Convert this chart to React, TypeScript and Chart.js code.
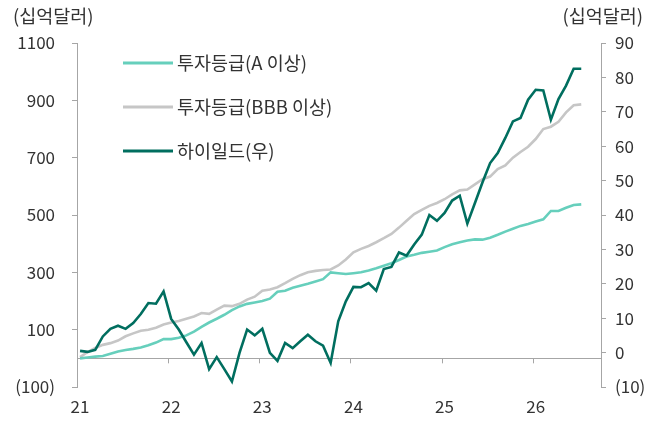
import React, { useEffect, useRef } from "react";
import { Chart, registerables } from "chart.js";

Chart.register(...registerables);

const YEAR_LABELS = ["21", "22", "23", "24", "25", "26"];
const LEFT_TICKS = [-100, 100, 300, 500, 700, 900, 1100];
const UNIT = "(십억달러)";
const SERIES_NAMES = ["투자등급(A 이상)", "투자등급(BBB 이상)", "하이일드(우)"];

const A_GRADE = [
  0, 3, 6, 8, 16, 24, 29, 33, 38, 46, 55, 67, 67, 72, 80, 93, 110, 125, 138, 152,
  168, 181, 190, 195, 200, 208, 232, 236, 246, 253, 260, 268, 276, 300, 297, 294,
  297, 300, 306, 314, 323, 332, 343, 355, 361, 368, 372, 376, 388, 398, 405, 411,
  415, 414, 421, 431, 442, 452, 462, 469, 477, 485, 514, 514, 525, 535, 537,
];
const BBB_GRADE = [
  4, 22, 36, 47, 53, 62, 77, 87, 96, 100, 107, 118, 125, 130, 138, 146, 158, 155,
  170, 184, 182, 190, 205, 215, 236, 240, 248, 262, 277, 290, 300, 305, 308, 310,
  324, 345, 370, 382, 392, 405, 419, 434, 456, 480, 503, 518, 532, 542, 555, 572,
  586, 589, 607, 625, 634, 660, 673, 700, 720, 738, 765, 800, 808, 825, 858, 883, 886,
];
const HIGH_YIELD = [
  0.5, 0.2, 0.8, 4.7, 6.9, 7.8, 6.9, 8.6, 11.2, 14.4, 14.2, 17.8, 9.8, 6.7, 3.0,
  -0.6, 2.8, -4.8, -1.3, -4.8, -8.4, -0.1, 6.7, 5.0, 6.9, -0.1, -2.4, 2.8, 1.3, 3.3,
  5.2, 3.3, 2.0, -3.0, 9.1, 14.9, 19.1, 19.0, 20.2, 18.0, 24.3, 24.9, 29.1, 28.2,
  31.4, 34.3, 40.0, 38.3, 40.6, 44.2, 45.6, 37.5, 43.5, 49.5, 55.1, 58.0, 62.4, 67.2,
  68.2, 73.5, 76.4, 76.2, 67.7, 73.7, 77.6, 82.5, 82.5,
];

const COLORS = ["#66cfbc", "#c6c6c6", "#006e5f"];
const FONT = "'Noto Sans CJK KR', 'Noto Sans', sans-serif";
const TEXT = "#333333";
const AXIS = "#a6a6a6";

const fmt = (v: number) => (v < 0 ? `(${-v})` : `${v}`);

const decor = {
  id: "decor",
  beforeDatasetsDraw(chart: any) {
    const { ctx } = chart;
    const xs = chart.scales.x;
    const yl = chart.scales.y;
    const y0 = yl.getPixelForValue(0);
    ctx.save();
    ctx.strokeStyle = AXIS;
    ctx.lineWidth = 1;
    YEAR_LABELS.forEach((_, i) => {
      const px = Math.round(xs.getPixelForValue(i * 12) - 3) + 0.5;
      ctx.beginPath();
      ctx.moveTo(px, y0);
      ctx.lineTo(px, y0 + 5);
      ctx.stroke();
    });
    ctx.restore();
  },
  afterDraw(chart: any) {
    const { ctx } = chart;
    ctx.save();
    ctx.font = `18.5px ${FONT}`;
    ctx.fillStyle = TEXT;
    ctx.textBaseline = "middle";
    ctx.textAlign = "left";
    ctx.fillText(UNIT, 13, 16);
    ctx.textAlign = "right";
    ctx.fillText(UNIT, 643, 16);
    ctx.textAlign = "left";
    const ys = [63, 107, 151];
    SERIES_NAMES.forEach((name, i) => {
      ctx.strokeStyle = COLORS[i];
      ctx.lineWidth = 3;
      ctx.beginPath();
      ctx.moveTo(123, ys[i]);
      ctx.lineTo(173, ys[i]);
      ctx.stroke();
      ctx.fillText(name, 177, ys[i]);
    });
    ctx.restore();
  },
};

export default function App() {
  const ref = useRef<HTMLCanvasElement>(null);
  useEffect(() => {
    if (!ref.current) return;
    const toPts = (arr: number[]) => arr.map((y, i) => ({ x: i, y }));
    const chart = new Chart(ref.current, {
      type: "line",
      data: {
        datasets: [
          { label: SERIES_NAMES[0], data: toPts(A_GRADE), borderColor: COLORS[0], yAxisID: "y", order: 1 },
          { label: SERIES_NAMES[1], data: toPts(BBB_GRADE), borderColor: COLORS[1], yAxisID: "y", order: 2 },
          { label: SERIES_NAMES[2], data: toPts(HIGH_YIELD), borderColor: COLORS[2], yAxisID: "y1", order: 0 },
        ].map((d) => ({ ...d, borderWidth: 2.6, pointRadius: 0, tension: 0, fill: false })),
      },
      options: {
        animation: false,
        responsive: false,
        maintainAspectRatio: false,
        layout: { padding: { top: 43, left: 0, right: 0, bottom: 0 } },
        plugins: { legend: { display: false }, tooltip: { enabled: false } },
        scales: {
          x: {
            type: "linear",
            min: -0.4,
            max: 68.6,
            afterBuildTicks: (s: any) => {
              s.ticks = YEAR_LABELS.map((_, i) => ({ value: i * 12 }));
            },
            afterFit: (s: any) => {
              s.height = 41;
            },
            grid: { display: false, drawTicks: false },
            border: { display: false },
            ticks: {
              callback: (v: any) => YEAR_LABELS[Math.round(Number(v) / 12)],
              font: { family: FONT, size: 17 },
              color: TEXT,
              padding: 9,
              maxRotation: 0,
              autoSkip: false,
            },
          },
          y: {
            position: "left",
            min: -100,
            max: 1100,
            afterBuildTicks: (s: any) => {
              s.ticks = LEFT_TICKS.map((v) => ({ value: v })).concat([{ value: 0 }]);
            },
            afterFit: (s: any) => {
              s.width = 77;
            },
            grid: {
              drawOnChartArea: true,
              color: (c: any) => (c.tick && c.tick.value === 0 ? AXIS : "rgba(0,0,0,0)"),
              tickColor: (c: any) => (c.tick && c.tick.value === 0 ? "rgba(0,0,0,0)" : AXIS),
              tickLength: 5,
            },
            border: { display: true, color: AXIS, width: 1 },
            ticks: {
              callback: (v: any) => (Number(v) === 0 ? "" : fmt(Number(v))),
              font: { family: FONT, size: 17 },
              color: TEXT,
              padding: 17,
            },
          },
          y1: {
            position: "right",
            min: -10,
            max: 90,
            afterFit: (s: any) => {
              s.width = 58;
            },
            grid: { drawOnChartArea: false, color: AXIS, tickLength: 5 },
            border: { display: true, color: AXIS, width: 1 },
            ticks: {
              stepSize: 10,
              callback: (v: any) => fmt(Number(v)),
              font: { family: FONT, size: 17 },
              color: TEXT,
              padding: 9,
            },
          },
        },
      },
      plugins: [decor],
    });
    return () => chart.destroy();
  }, []);
  return (
    <div style={{ position: "absolute", left: 0, top: 0, width: 659, height: 428 }}>
      <canvas ref={ref} width={659} height={428} style={{ width: 659, height: 428 }} />
    </div>
  );
}
